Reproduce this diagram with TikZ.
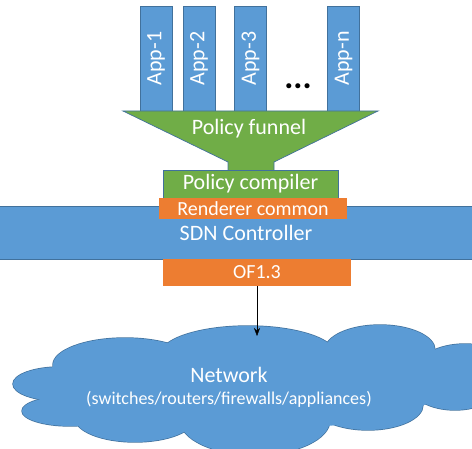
\documentclass[tikz,border=0pt]{standalone}
\usepackage{fontspec}
\setmainfont{Carlito}
\usetikzlibrary{arrows.meta, positioning}
\definecolor{sdnblue}{HTML}{5B9BD5}
\definecolor{sdnline}{HTML}{41719C}
\definecolor{polgreen}{HTML}{70AD47}
\definecolor{rendorange}{HTML}{ED7D31}

\begin{document}
\begin{tikzpicture}[x=1pt, y=-1pt,
        bluebox/.style={draw=sdnline, fill=sdnblue, line width=0.7pt, inner sep=0pt, text=white},
        greenbox/.style={draw=sdnline, fill=polgreen, line width=0.7pt, inner sep=0pt, text=white},
        orangebox/.style={fill=rendorange, inner sep=0pt, text=white},
        appbox/.style={bluebox, rotate=90, minimum width=105pt, minimum height=32pt},
        bigtext/.style={font=\fontsize{22}{26}\selectfont},
        midtext/.style={font=\fontsize{20}{24}\selectfont}]
        \useasboundingbox (0,0) rectangle (472,449);
        \clip (0,0) rectangle (472,449);

        % network cloud: outline pass, then fill pass
        \foreach \cx/\cy/\rx/\ry in {60/384/47/17, 70/411/48/15, 125/365/72/27, 248/355/88/29,
                380/350/55/25, 465/372/50/28, 455/385/45/25, 368/405/55/25,
                255/420/75/35, 135/418/60/24}
            \draw[sdnline, line width=1.4pt] (\cx,\cy) ellipse [x radius=\rx, y radius=\ry];
        \foreach \cx/\cy/\rx/\ry in {60/384/47/17, 70/411/48/15, 125/365/72/27, 248/355/88/29,
                380/350/55/25, 465/372/50/28, 455/385/45/25, 368/405/55/25,
                255/420/75/35, 135/418/60/24, 245/385/200/45}
            \fill[sdnblue] (\cx,\cy) ellipse [x radius=\rx, y radius=\ry];
        \node[text=white, align=center] (netlbl) at (229,387)
            {{\fontsize{22}{26}\selectfont Network}\\[8pt]{\fontsize{18}{22}\selectfont (switches/routers/firewalls/appliances)}};
        \coordinate (nettop) at (257,336);

        % apps
        \foreach \x/\n in {156/1, 199/2, 250.5/3, 343.5/n}
            \node[appbox, bigtext] (app\n) at (\x,58.5) {App-\n};
        \node[font=\fontsize{34}{34}\selectfont\bfseries] (dots) at (298,86) {...};

        % funnel
        \draw[fill=polgreen, draw=sdnline, line width=0.7pt]
            (123,111) -- (378,111) -- (274,162) -- (274,171) -- (228,171) -- (228,162) -- cycle;
        \node[bigtext, text=white] (funnel) at (249,129) {Policy funnel};

        % controller stack
        \node[bluebox, bigtext, minimum width=500pt, minimum height=53pt] (sdn) at (246,232.5) {SDN Controller};
        \node[greenbox, bigtext, minimum width=175pt, minimum height=28pt] (compiler) at (250.5,184) {Policy compiler};
        \node[orangebox, midtext, minimum width=188pt, minimum height=21pt] (renderer) at (253,208.5) {Renderer common};
        \node[orangebox, midtext, minimum width=188pt, minimum height=27pt] (of) at (257,272.5) {OF1.3};

        \draw[-{Stealth[length=8pt, width=6pt]}, thin] (of.south) -- (nettop);
\end{tikzpicture}
\end{document}
